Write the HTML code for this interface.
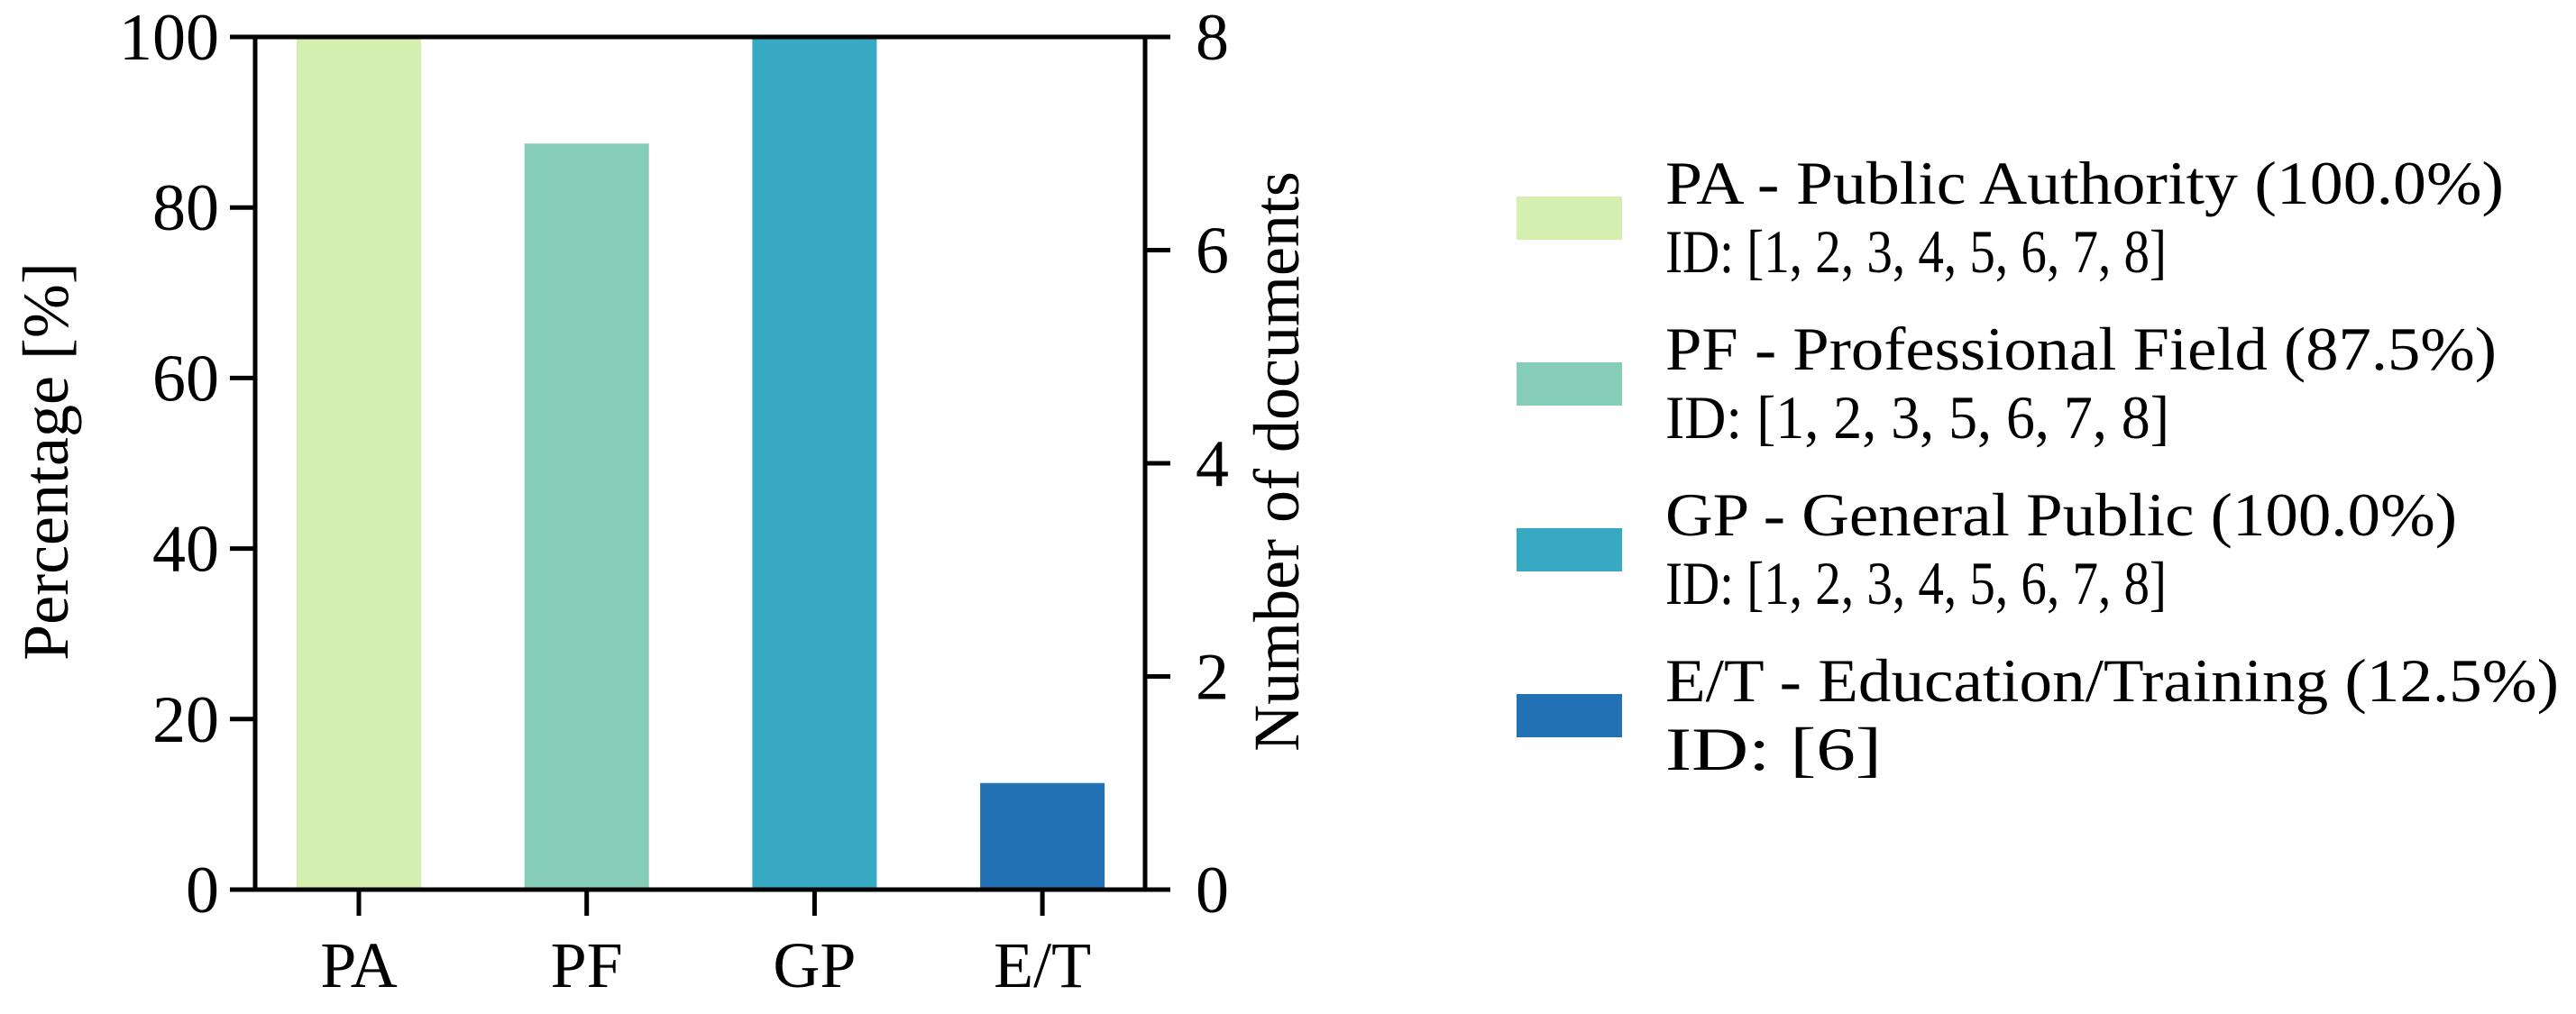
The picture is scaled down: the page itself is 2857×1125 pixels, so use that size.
<!DOCTYPE html>
<html><head><meta charset="utf-8"><style>
html,body{margin:0;padding:0;background:#fff;}
svg{display:block;font-family:"Liberation Serif","DejaVu Serif",serif;}
</style></head><body>
<svg id="chart" width="2857" height="1125" viewBox="0 0 2857 1125" xmlns="http://www.w3.org/2000/svg">
<g id="bars"></g>
<g id="axes"></g>
<g id="legend"></g>
</svg>
<script>
const categories = ["PA","PF","GP","E/T"];
const percentages = [100, 87.5, 100, 12.5];
const leftTicks = [0,20,40,60,80,100];
const rightTicks = [0,2,4,6,8];
const legendTitles = ["PA - Public Authority (100.0%)","PF - Professional Field (87.5%)","GP - General Public (100.0%)","E/T - Education/Training (12.5%)"];
const legendIds = ["ID: [1, 2, 3, 4, 5, 6, 7, 8]","ID: [1, 2, 3, 5, 6, 7, 8]","ID: [1, 2, 3, 4, 5, 6, 7, 8]","ID: [6]"];
const colors = ["#d5efb0","#85cdb7","#37a9c3","#2171b4"];

const NS="http://www.w3.org/2000/svg";
const L=283,R=1270,T=41,B=987;
const x=i=>398+i*252.7;
const yL=v=>B-(v/100)*(B-T);
const yR=v=>B-(v/8)*(B-T);
const barW=138;
function mk(tag,attrs,parent){const e=document.createElementNS(NS,tag);for(const k in attrs)e.setAttribute(k,attrs[k]);parent.appendChild(e);return e;}
const gb=document.getElementById('bars'),ga=document.getElementById('axes'),gl=document.getElementById('legend');

percentages.forEach((v,i)=>{
  const r=mk('rect',{x:x(i)-barW/2,y:yL(v),width:barW,height:B-yL(v),fill:colors[i]},gb);
  
  
});
const frame=mk('path',{d:`M${L} ${T}H${R}V${B}H${L}Z`,fill:'none',stroke:'#000','stroke-width':5},ga);


leftTicks.forEach(v=>{
  const t=mk('line',{x1:L-28,x2:L,y1:yL(v),y2:yL(v),stroke:'#000','stroke-width':5},ga);
  
  
  const tx=mk('text',{x:L-40,y:yL(v)+25,'text-anchor':'end','font-size':74},ga);
  tx.textContent=v;
  
  
});
rightTicks.forEach(v=>{
  const t=mk('line',{x1:R,x2:R+28,y1:yR(v),y2:yR(v),stroke:'#000','stroke-width':5},ga);
  
  
  const tx=mk('text',{x:R+56,y:yR(v)+25,'text-anchor':'start','font-size':74},ga);
  tx.textContent=v;
  
  
});
categories.forEach((c,i)=>{
  const t=mk('line',{x1:x(i),x2:x(i),y1:B,y2:B+29,stroke:'#000','stroke-width':5},ga);
  
  
  const tx=mk('text',{x:x(i),y:1095,'text-anchor':'middle','font-size':72},ga);
  tx.textContent=c;
  
  
});
const yl=mk('text',{x:0,y:0,transform:'translate(75,512) rotate(-90)','text-anchor':'middle','font-size':72},ga);
yl.textContent='Percentage [%]';


const yr=mk('text',{x:0,y:0,transform:'translate(1440,512) rotate(-90)','text-anchor':'middle','font-size':72},ga);
yr.textContent='Number of documents';



const titleW=[930,922,878,991];
const idW=[556,559,556,240];
legendTitles.forEach((s,i)=>{
  const y0=218+i*184;
  const sw=mk('rect',{x:1682,y:y0,width:117,height:48,fill:colors[i]},gl);
  
  
  const t1=mk('text',{x:1847,y:y0+8,'font-size':68,textLength:titleW[i],lengthAdjust:'spacingAndGlyphs'},gl);
  t1.textContent=s;
  
  
  const t2=mk('text',{x:1847,y:y0+84,'font-size':68,textLength:idW[i],lengthAdjust:'spacingAndGlyphs'},gl);
  t2.textContent=legendIds[i];
  
  
});
</script>
</body></html>
